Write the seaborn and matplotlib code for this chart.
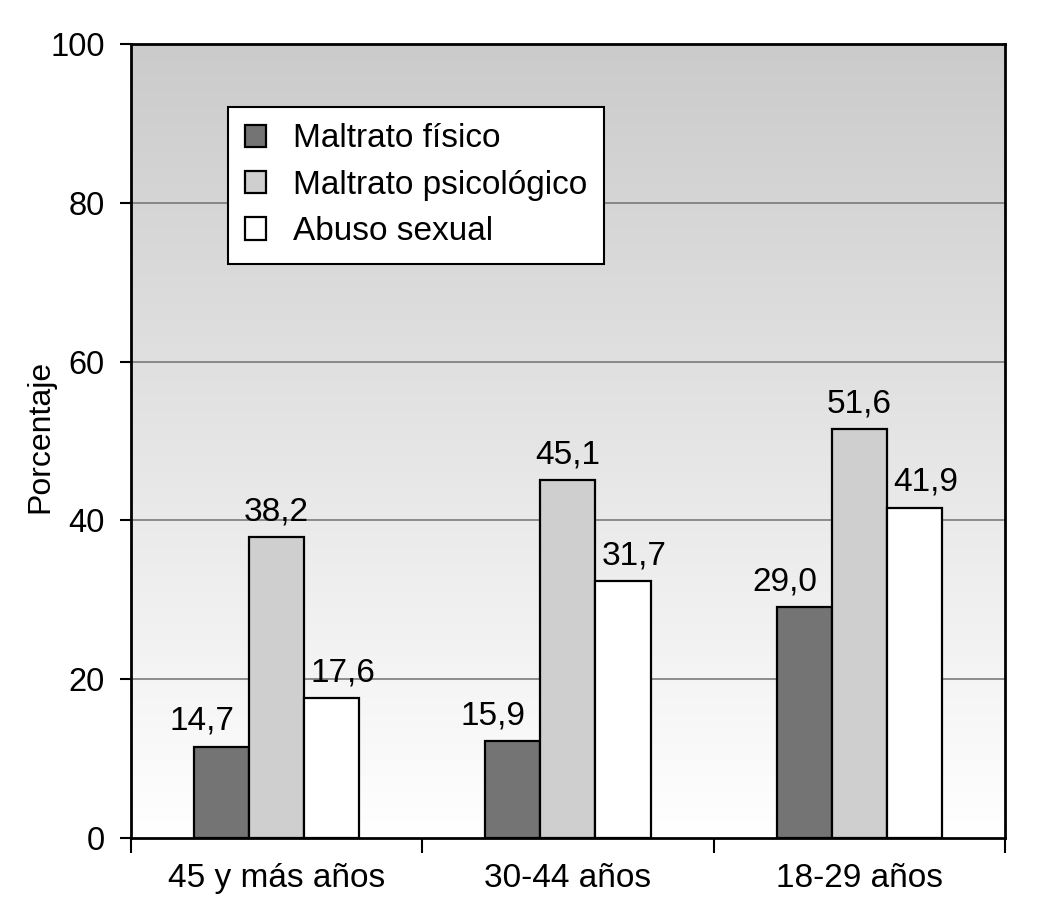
import numpy as np
import pandas as pd
import matplotlib
matplotlib.use("Agg")
import matplotlib.pyplot as plt
import seaborn as sns

# datos (altura dibujada de cada barra y su etiqueta)
grupos = ["45 y más años", "30-44 años", "18-29 años"]
tipos = ["Maltrato físico", "Maltrato psicológico", "Abuso sexual"]
fisico = [11.5, 12.2, 29.1]
psicologico = [37.9, 45.1, 51.5]
sexual = [17.6, 32.4, 41.6]
etiq_fisico = ["14,7", "15,9", "29,0"]
etiq_psicologico = ["38,2", "45,1", "51,6"]
etiq_sexual = ["17,6", "31,7", "41,9"]

colores = ["#747474", "#cfcfcf", "#ffffff"]

df = pd.DataFrame({
    "grupo": grupos * 3,
    "tipo": [t for t in tipos for _ in grupos],
    "pct": fisico + psicologico + sexual,
})

sns.set_style("white")
plt.rcParams["font.family"] = ["Liberation Sans", "DejaVu Sans"]
plt.rcParams["text.color"] = "black"
plt.rcParams["axes.labelcolor"] = "black"
plt.rcParams["xtick.color"] = "black"
plt.rcParams["ytick.color"] = "black"

fig = plt.figure(figsize=(10.37, 9.08), dpi=100)
ax = fig.add_axes([0.1263, 0.0771, 0.8428, 0.8744])

# fondo degradado gris -> blanco
grad = np.linspace(0, 1, 256).reshape(-1, 1)
ax.imshow(grad, extent=[-0.5, 2.5, 0, 100], aspect="auto",
          cmap=matplotlib.colors.LinearSegmentedColormap.from_list("g", ["#cbcbcb", "#ffffff"]),
          origin="upper", zorder=0)

sns.barplot(data=df, x="grupo", y="pct", hue="tipo", order=grupos, hue_order=tipos,
            palette=colores, saturation=1, width=0.567, edgecolor="black",
            linewidth=1.6, ax=ax, zorder=3)

ax.set_xlim(-0.5, 2.5)
ax.set_ylim(0, 100)
ax.set_yticks(range(0, 101, 20))
for y in [20, 40, 60, 80]:
    ax.axhline(y, color="#717171", lw=1.1, zorder=1)

# etiquetas sobre las barras
etiquetas = [etiq_fisico, etiq_psicologico, etiq_sexual]
desplaz = [-14, 0, 8]
for cont, labs, dx in zip(ax.containers, etiquetas, desplaz):
    for bar, lab in zip(cont, labs):
        ax.annotate(lab, (bar.get_x() + bar.get_width() / 2, bar.get_height()),
                    xytext=(dx, 7), textcoords="offset points",
                    ha="center", va="bottom", fontsize=24)

for s in ax.spines.values():
    s.set_color("black")
    s.set_linewidth(2)

ax.set_xlabel("")
ax.set_ylabel("Porcentaje", fontsize=23)
ax.yaxis.set_label_coords(-0.087, 0.506)
ax.tick_params(axis="y", direction="out", length=8, width=1.5, labelsize=23.5, pad=11, left=True)
ax.tick_params(axis="x", which="major", length=0, labelsize=24, pad=18)
ax.set_xticks([-0.5, 0.5, 1.5, 2.5], minor=True)
ax.tick_params(axis="x", which="minor", direction="out", length=11, width=1.5, bottom=True)

leg = ax.legend(loc="upper left", bbox_to_anchor=(0.111, 0.921), fontsize=24,
                frameon=True, fancybox=False, edgecolor="black", framealpha=1,
                handlelength=0.65, handleheight=0.65, handletextpad=0.8,
                labelspacing=0.46, borderpad=0.5, borderaxespad=0)
leg.get_frame().set_linewidth(1.5)
leg.set_zorder(5)

fig.savefig("out.png", dpi=100)
